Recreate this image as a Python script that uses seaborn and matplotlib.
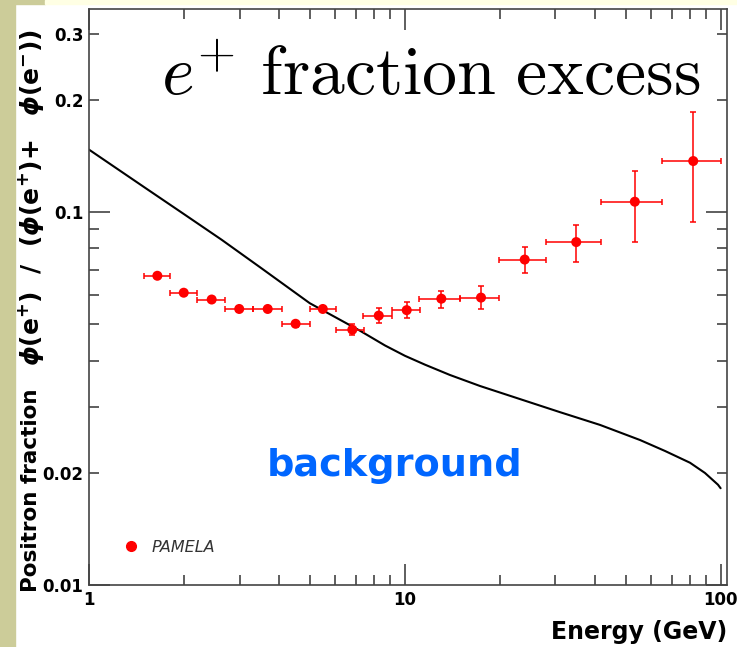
import matplotlib
matplotlib.use("Agg")
import matplotlib.pyplot as plt
from matplotlib.patches import Rectangle
from matplotlib.lines import Line2D
from matplotlib.ticker import FixedLocator, FuncFormatter, NullFormatter
import numpy as np
import pandas as pd
import seaborn as sns

# PAMELA positron fraction: bin centres, values and bin / error limits
energy = [1.646, 1.995, 2.446, 2.99, 3.68, 4.51, 5.50, 6.82, 8.27, 10.14,
          13.05, 17.43, 23.97, 34.9, 53.5, 81.9]
frac = [0.0675, 0.0608, 0.0583, 0.0550, 0.0550, 0.0502, 0.0550, 0.0484,
        0.0528, 0.0546, 0.0586, 0.0590, 0.0746, 0.0831, 0.1066, 0.137]
e_low = [1.49, 1.81, 2.20, 2.70, 3.31, 4.09, 5.00, 6.07, 7.36, 9.08,
         11.1, 15.0, 19.9, 27.9, 41.8, 65.0]
e_high = [1.81, 2.20, 2.70, 3.31, 4.09, 5.00, 6.07, 7.40, 9.08, 11.2,
          15.0, 19.9, 27.9, 41.9, 65.0, 100.0]
f_low = [0.0665, 0.0598, 0.0573, 0.0540, 0.0540, 0.0492, 0.0540, 0.0467,
         0.0504, 0.0519, 0.0553, 0.0550, 0.0688, 0.0737, 0.0831, 0.0938]
f_high = [0.0685, 0.0618, 0.0593, 0.0560, 0.0560, 0.0512, 0.0560, 0.0502,
          0.0553, 0.0574, 0.0615, 0.0632, 0.0804, 0.0925, 0.129, 0.1854]

# secondary-production background curve
bg_energy = [1.0, 1.5, 2.0, 2.63, 3.5, 5.0, 7.21, 8.66, 10.01, 11.59, 13.9,
             17.3, 31.0, 41.5, 55.6, 66.7, 80.0, 89.2, 98.1, 100.0]
bg_frac = [0.147, 0.1164, 0.0987, 0.0843, 0.0709, 0.0570, 0.0481, 0.0439,
           0.0412, 0.0390, 0.0366, 0.0342, 0.0291, 0.0269, 0.0245, 0.0229,
           0.0213, 0.0200, 0.0186, 0.0182]

x_major = [1, 10, 100]
x_minor = [2, 3, 4, 5, 6, 7, 8, 9, 20, 30, 40, 50, 60, 70, 80, 90]
y_major = [0.01, 0.1]
y_minor = [0.02, 0.03, 0.04, 0.05, 0.06, 0.07, 0.08, 0.09, 0.2, 0.3]
y_minor_labelled = [0.02, 0.2, 0.3]

sns.set_style("ticks")
plt.rcParams["font.family"] = ["DejaVu Sans"]
plt.rcParams["font.weight"] = "bold"
plt.rcParams["text.color"] = "black"
plt.rcParams["xtick.labelcolor"] = "black"
plt.rcParams["ytick.labelcolor"] = "black"

W, H = 737, 647
fig = plt.figure(figsize=(W / 100, H / 100), dpi=100)
fig.patch.set_facecolor("white")

# slide frame strips
fig.patches.extend([
    Rectangle((0, 0), 15 / W, 1, transform=fig.transFigure, color="#CCCC99", zorder=-5),
    Rectangle((0, 1 - 4 / H), 45 / W, 4 / H, transform=fig.transFigure, color="#CCCC99", zorder=-5),
    Rectangle((45 / W, 1 - 4 / H), 1, 4 / H, transform=fig.transFigure, color="#FFFFE4", zorder=-5),
])

ax = fig.add_axes([89 / W, 1 - 585.3 / H, (727.3 - 89) / W, (585.3 - 9) / H])
ax.set_xscale("log")
ax.set_yscale("log")

bg = pd.DataFrame({"energy": bg_energy, "fraction": bg_frac})
sns.lineplot(data=bg, x="energy", y="fraction", ax=ax, color="black",
             lw=1.5, sort=False, estimator=None)

e = np.array(energy)
f = np.array(frac)
ax.errorbar(e, f,
            xerr=[e - np.array(e_low), np.array(e_high) - e],
            yerr=[f - np.array(f_low), np.array(f_high) - f],
            fmt="none", ecolor="red", elinewidth=1.1, capsize=2.5,
            capthick=1.1, zorder=3)
pts = pd.DataFrame({"energy": energy, "fraction": frac})
sns.scatterplot(data=pts, x="energy", y="fraction", ax=ax, color="red",
                s=52, edgecolor="none", zorder=4, legend=False)

ax.set_xlim(1, 105)
ax.set_ylim(0.01, 0.35)
ax.set_xlabel("")
ax.set_ylabel("")

ax.xaxis.set_major_locator(FixedLocator(x_major))
ax.xaxis.set_minor_locator(FixedLocator(x_minor))
ax.xaxis.set_major_formatter(FuncFormatter(lambda v, p: f"{v:g}"))
ax.xaxis.set_minor_formatter(NullFormatter())
ax.yaxis.set_major_locator(FixedLocator(y_major))
ax.yaxis.set_minor_locator(FixedLocator(y_minor))
ax.yaxis.set_major_formatter(FuncFormatter(lambda v, p: f"{v:g}"))
ax.yaxis.set_minor_formatter(FuncFormatter(
    lambda v, p: f"{v:g}" if any(abs(v - t) < 1e-9 for t in y_minor_labelled) else ""))

ax.tick_params(which="both", direction="in", top=True, right=True,
               color="#333333", width=1.1, labelsize=12, pad=4,
               labelcolor="black")
ax.tick_params(which="major", length=15)
ax.tick_params(which="minor", length=7.5)
for s in ax.spines.values():
    s.set_color("#444444")
    s.set_linewidth(1.2)

# legend entry
handle = Line2D([], [], marker="o", ls="", color="red", markersize=7)
ax.legend([handle], ["PAMELA"], loc="center left",
          bbox_to_anchor=(123.4 / W, 1 - 547 / H), bbox_transform=fig.transFigure,
          frameon=False, borderpad=0, borderaxespad=0, handlelength=1.0,
          handletextpad=0.74,
          prop={"style": "italic", "weight": "normal", "size": 11.5},
          labelcolor="#333333")

fig.text(161 / W, 1 - 95 / H, r"$e^{+}\ \mathrm{fraction\ excess}$",
         math_fontfamily="cm", fontsize=50.3, ha="left", va="baseline",
         color="black", fontweight="normal")

fig.text(394.5 / W, 1 - 466 / H, "background", color="#0066FF",
         fontsize=27.5, fontweight="bold", ha="center", va="center")

fig.text(727 / W, 1 - 632 / H, "Energy (GeV)", fontsize=17,
         fontweight="bold", ha="right", va="center")

# y-axis title: words and flux ratio
fig.text(31 / W, 1 - 592 / H, "Positron fraction",
         fontsize=15.5, fontweight="bold", rotation=90, ha="center",
         va="bottom")
fig.text(31 / W, 1 - 366 / H,
         r"$\phi(\mathrm{e}^{+})\ \ /\ \ (\phi(\mathrm{e}^{+})\!+\ \ \phi(\mathrm{e}^{-}))$",
         fontsize=18, rotation=90, ha="center", va="bottom",
         math_fontfamily="dejavusans")

fig.savefig("out.png", dpi=100)
